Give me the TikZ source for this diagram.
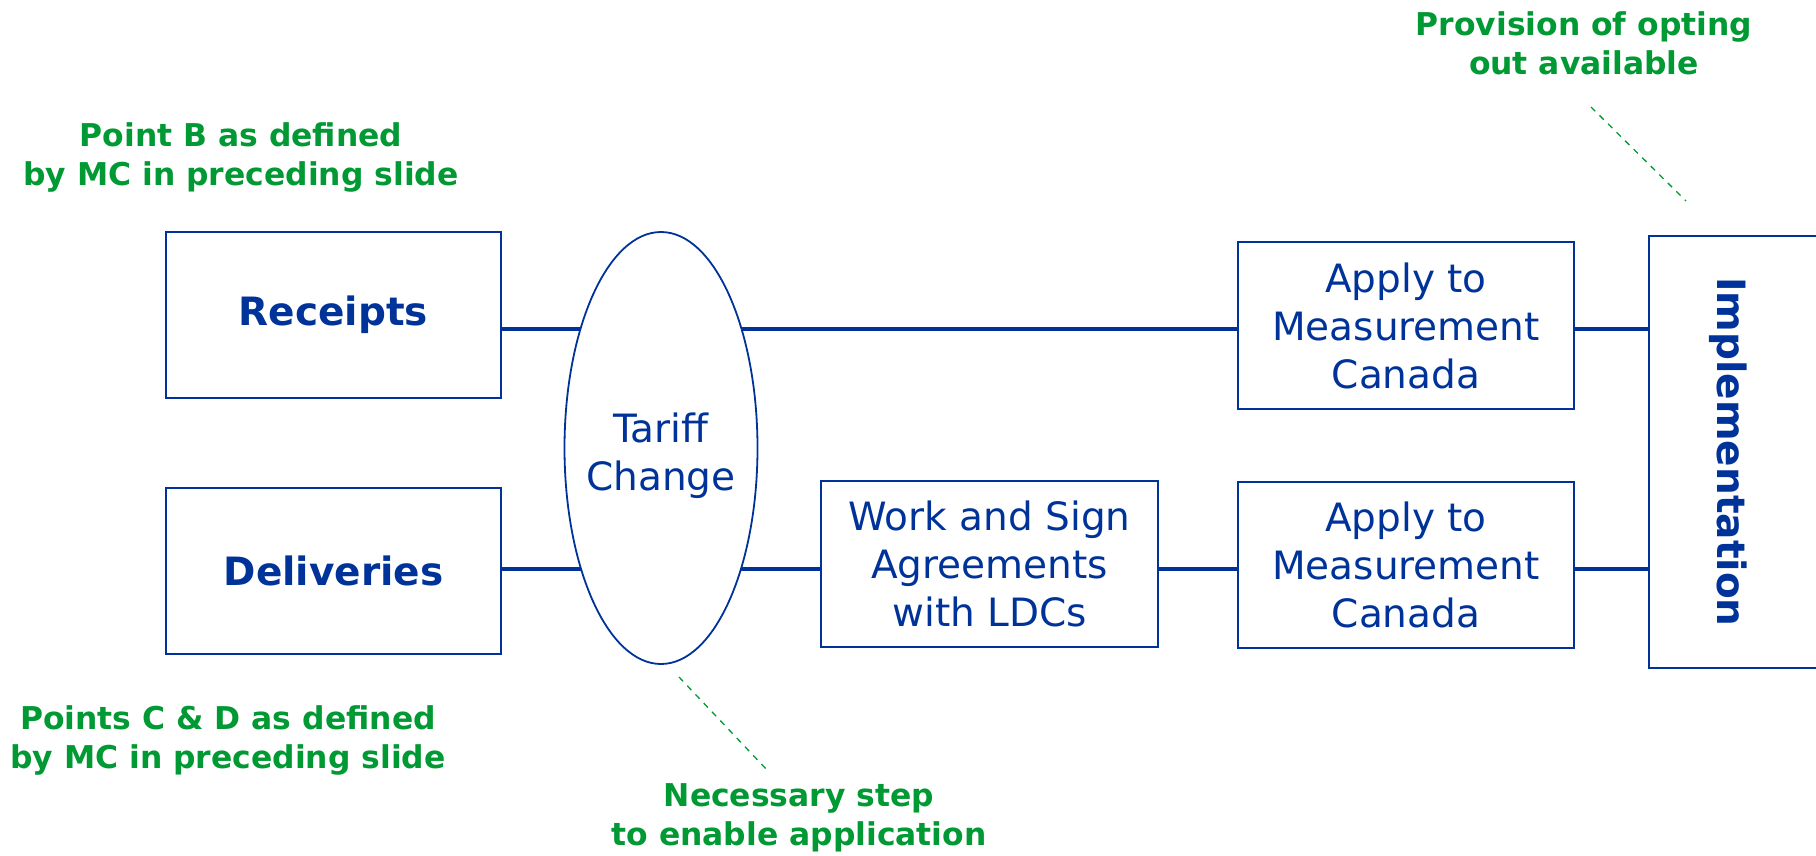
\documentclass[tikz,border=0pt]{standalone}
\usepackage{fontspec}
\setmainfont{DejaVu Sans}
\usepackage{tikz}
\usetikzlibrary{shapes.geometric,backgrounds}
\definecolor{navy}{HTML}{003399}
\definecolor{leafgreen}{HTML}{009933}
\tikzstyle{procbox} = [draw=navy, fill=white, line width=2.3pt, rectangle, text=navy, align=center, inner sep=0pt, font=\fontsize{39}{48}\selectfont]
\tikzstyle{keybox} = [procbox, font=\fontsize{39}{48}\selectfont\bfseries]
\tikzstyle{tariffoval} = [draw=navy, fill=white, line width=1.8pt, ellipse, inner sep=0pt, minimum width=193pt, minimum height=432pt]
\tikzstyle{ovaltext} = [text=navy, align=center, font=\fontsize{39}{48}\selectfont]
\tikzstyle{notetext} = [text=leafgreen, align=center, font=\fontsize{31.4}{39}\selectfont\bfseries]
\tikzstyle{linkline} = [draw=navy, line width=4.6pt]
\tikzstyle{leader} = [draw=leafgreen, line width=1.3pt, dash pattern=on 6pt off 6pt]

\begin{document}
\begin{tikzpicture}[x=1pt,y=-1pt]
\useasboundingbox (0,0) rectangle (1816,856);

% inputs
\node[keybox, minimum width=335pt, minimum height=166pt] (recv) at (333.5,315) {Receipts};
\node[keybox, minimum width=335pt, minimum height=166pt] (deliv) at (333.5,571) {Deliveries};

\node[tariffoval] (tariff) at (661,448) {};
\node[ovaltext] (tarifftxt) at (661,456) {Tariff\\Change};

\node[procbox, minimum width=337pt, minimum height=166pt] (ldc) at (989.5,564) {Work and Sign\\Agreements\\with LDCs};
\node[procbox, minimum width=336pt, minimum height=167pt] (mcA) at (1406,325.5) {Apply to\\Measurement\\Canada};
\node[procbox, minimum width=336pt, minimum height=166pt] (mcB) at (1406,565) {Apply to\\Measurement\\Canada};

\node[keybox, minimum width=173pt, minimum height=432pt] (impl) at (1735.5,452) {\hspace*{-14pt}\rotatebox{-90}{Implementation}};

% rows
\coordinate (rowA) at (0,329);
\coordinate (rowB) at (0,569);
\begin{scope}[on background layer]
\draw[linkline] (recv.east |- rowA) -- (impl.west |- rowA);
\draw[linkline] (deliv.east |- rowB) -- (impl.west |- rowB);
\end{scope}

% notes
\node[notetext] (ptB) at (241,157) {Point B as defined\\by MC in preceding slide};
\node[notetext] (ptCD) at (228,740) {Points C \& D as defined\\by MC in preceding slide};
\node[notetext] (needed) at (799,818) {Necessary step\\to enable application};
\node[notetext] (optout) at (1584,43) {Provision of opting\\out available};

\coordinate (tipA) at (679,677);
\coordinate (tipB) at (768,771);
\coordinate (optA) at (1591,107);
\coordinate (optB) at (1686,201);
\draw[leader] (tipA) -- (tipB);
\draw[leader] (optA) -- (optB);
\end{tikzpicture}
\end{document}
